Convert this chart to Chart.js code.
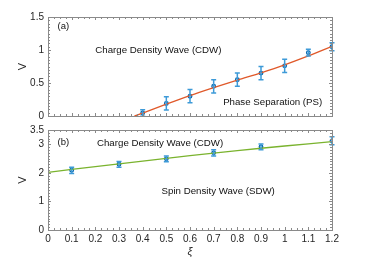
<!DOCTYPE html>
<html>
<head>
<meta charset="utf-8">
<script src="https://cdn.jsdelivr.net/npm/chart.js@4.4.0/dist/chart.umd.min.js"></script>
<style>
  html, body { margin: 0; padding: 0; background: #fff; }
  .panel { position: absolute; left: 0; }
  #boxA { top: 0; width: 367px; height: 126px; }
  #boxB { top: 120px; width: 367px; height: 139px; }
</style>
</head>
<body>
<div class="panel" id="boxA"><canvas id="graficoA" width="367" height="126"></canvas></div>
<div class="panel" id="boxB"><canvas id="graficoB" width="367" height="139"></canvas></div>
<script>
// painel (a)
const xiA = [0.4, 0.5, 0.6, 0.7, 0.8, 0.9, 1.0, 1.1, 1.2];
const vA = [0.045, 0.19, 0.30, 0.45, 0.55, 0.65, 0.76, 0.96, 1.05];
const errA = [0.05, 0.1, 0.1, 0.1, 0.1, 0.1, 0.1, 0.05, 0.06];
const fitXiA = [0.365, 0.4, 0.5, 0.6, 0.7, 0.8, 0.9, 1.0, 1.1, 1.2];
const fitVA = [0, 0.045, 0.18, 0.31, 0.43, 0.545, 0.655, 0.775, 0.91, 1.055];
const ticksA = [0, 0.5, 1, 1.5];

// painel (b)
const xiB = [0.1, 0.3, 0.5, 0.7, 0.9, 1.2];
const vB = [2.09, 2.30, 2.49, 2.70, 2.91, 3.12];
const errB = [0.11, 0.1, 0.1, 0.11, 0.1, 0.14];
const fitXiB = [0, 0.2, 0.4, 0.6, 0.8, 1.0, 1.2];
const fitVB = [2.02, 2.22, 2.41, 2.60, 2.78, 2.94, 3.09];
const ticksB = [0, 1, 2, 3, 3.5];

const ticksX = [0, 0.1, 0.2, 0.3, 0.4, 0.5, 0.6, 0.7, 0.8, 0.9, 1, 1.1, 1.2];

const corEixo = '#8a8a8a';
const corTexto = '#262626';
const fonte = 'Liberation Sans, Arial, sans-serif';

function pares(xs, ys) {
  return xs.map((x, i) => ({ x: x, y: ys[i] }));
}

// moldura com marcas para dentro nos quatro lados + barras de erro + rótulos
function pluginMoldura(cfg) {
  return {
    id: 'moldura',
    afterDatasetsDraw(chart) {
      const ctx = chart.ctx;
      const sx = chart.scales.x, sy = chart.scales.y;

      // barras de erro
      ctx.save();
      ctx.strokeStyle = '#3d9ad8';
      ctx.lineWidth = 1.5;
      cfg.xs.forEach((x, i) => {
        const px = sx.getPixelForValue(x);
        const y1 = sy.getPixelForValue(cfg.ys[i] - cfg.err[i]);
        const y2 = sy.getPixelForValue(cfg.ys[i] + cfg.err[i]);
        ctx.beginPath();
        ctx.moveTo(px, y1); ctx.lineTo(px, y2);
        ctx.moveTo(px - 2.5, y1); ctx.lineTo(px + 2.5, y1);
        ctx.moveTo(px - 2.5, y2); ctx.lineTo(px + 2.5, y2);
        ctx.stroke();
      });
      ctx.restore();
    },
    afterDraw(chart) {
      const ctx = chart.ctx;
      const a = chart.chartArea;
      const sx = chart.scales.x, sy = chart.scales.y;
      ctx.save();
      ctx.strokeStyle = corEixo;
      ctx.lineWidth = 1;
      ctx.strokeRect(Math.round(a.left) + 0.5, Math.round(a.top) + 0.5,
        Math.round(a.right - a.left), Math.round(a.bottom - a.top));

      ctx.beginPath();
      // x: maiores a cada 0.1, menores a cada 0.025
      for (let k = 0; k <= 48; k++) {
        const v = k * 0.025;
        const px = Math.round(sx.getPixelForValue(v)) + 0.5;
        const len = (k % 4 === 0) ? 3 : 2;
        ctx.moveTo(px, a.bottom); ctx.lineTo(px, a.bottom - len);
        ctx.moveTo(px, a.top); ctx.lineTo(px, a.top + len);
      }
      // y
      const n = Math.round(cfg.yMax / cfg.minor);
      for (let k = 0; k <= n; k++) {
        const v = k * cfg.minor;
        const py = Math.round(sy.getPixelForValue(v)) + 0.5;
        const major = Math.abs(v / cfg.major - Math.round(v / cfg.major)) < 1e-6;
        const len = major ? 3 : 2;
        ctx.moveTo(a.left, py); ctx.lineTo(a.left + len, py);
        ctx.moveTo(a.right, py); ctx.lineTo(a.right - len, py);
      }
      ctx.stroke();

      // textos
      ctx.fillStyle = '#111';
      ctx.textBaseline = 'middle';
      ctx.textAlign = 'left';
      cfg.textos.forEach(t => {
        ctx.font = t.size + 'px ' + fonte;
        ctx.fillText(t.txt, sx.getPixelForValue(t.x), sy.getPixelForValue(t.y));
      });
      ctx.restore();
    }
  };
}

function criarGrafico(id, opts) {
  const ctx = document.getElementById(id).getContext('2d');
  return new Chart(ctx, {
    type: 'scatter',
    data: {
      datasets: [
        {
          data: pares(opts.fitXs, opts.fitYs),
          showLine: true,
          borderColor: opts.corLinha,
          borderWidth: 1.3,
          pointRadius: 0,
          tension: 0.3
        },
        {
          data: pares(opts.xs, opts.ys),
          pointRadius: 1.8,
          pointBorderWidth: 1.3,
          borderColor: '#0868b0',
          backgroundColor: 'rgba(0,0,0,0)'
        }
      ]
    },
    options: {
      responsive: false,
      animation: false,
      events: [],
      layout: { padding: opts.padding },
      plugins: { legend: { display: false }, tooltip: { enabled: false } },
      scales: {
        x: {
          type: 'linear',
          min: 0, max: 1.2,
          grid: { display: false, drawTicks: false },
          border: { display: false },
          afterBuildTicks: s => { s.ticks = ticksX.map(v => ({ value: v })); },
          afterFit: s => { s.height = opts.xHeight; },
          ticks: {
            display: opts.xLabels,
            padding: 3,
            color: corTexto,
            font: { family: fonte, size: 10 },
            callback: v => String(v)
          },
          title: {
            display: opts.xLabels,
            text: 'ξ',
            color: corTexto,
            font: { family: fonte, size: 11, style: 'italic' },
            padding: { top: 0, bottom: 0 }
          }
        },
        y: {
          type: 'linear',
          min: 0, max: opts.yMax,
          grid: { display: false, drawTicks: false },
          border: { display: false },
          afterBuildTicks: s => { s.ticks = opts.yTicks.map(v => ({ value: v })); },
          afterFit: s => { s.width = 48; },
          ticks: {
            padding: 4,
            color: corTexto,
            font: { family: fonte, size: 10 },
            callback: v => String(v)
          },
          title: {
            display: true,
            text: 'V',
            color: corTexto,
            font: { family: fonte, size: 11 },
            padding: { top: 16, bottom: 0 }
          }
        }
      }
    },
    plugins: [pluginMoldura({
      xs: opts.xs, ys: opts.ys, err: opts.err,
      yMax: opts.yMax, major: opts.major, minor: opts.minor,
      textos: opts.textos
    })]
  });
}

criarGrafico('graficoA', {
  xs: xiA, ys: vA, err: errA,
  fitXs: fitXiA, fitYs: fitVA,
  corLinha: '#e0592a',
  yMax: 1.5, yTicks: ticksA, major: 0.5, minor: 0.05,
  xLabels: false, xHeight: 0,
  padding: { top: 17, right: 35, bottom: 8, left: 0 },
  textos: [
    { txt: '(a)', x: 0.04, y: 1.36, size: 9.5 },
    { txt: 'Charge Density Wave (CDW)', x: 0.2, y: 0.99, size: 9.7 },
    { txt: 'Phase Separation (PS)', x: 0.74, y: 0.21, size: 9.7 }
  ]
});

criarGrafico('graficoB', {
  xs: xiB, ys: vB, err: errB,
  fitXs: fitXiB, fitYs: fitVB,
  corLinha: '#7ab32e',
  yMax: 3.5, yTicks: ticksB, major: 1, minor: 0.1,
  xLabels: true, xHeight: 29,
  padding: { top: 8.5, right: 35, bottom: 0, left: 0 },
  textos: [
    { txt: '(b)', x: 0.04, y: 3.08, size: 9.5 },
    { txt: 'Charge Density Wave (CDW)', x: 0.207, y: 3.02, size: 9.7 },
    { txt: 'Spin Density Wave (SDW)', x: 0.48, y: 1.36, size: 9.7 }
  ]
});
</script>
</body>
</html>
